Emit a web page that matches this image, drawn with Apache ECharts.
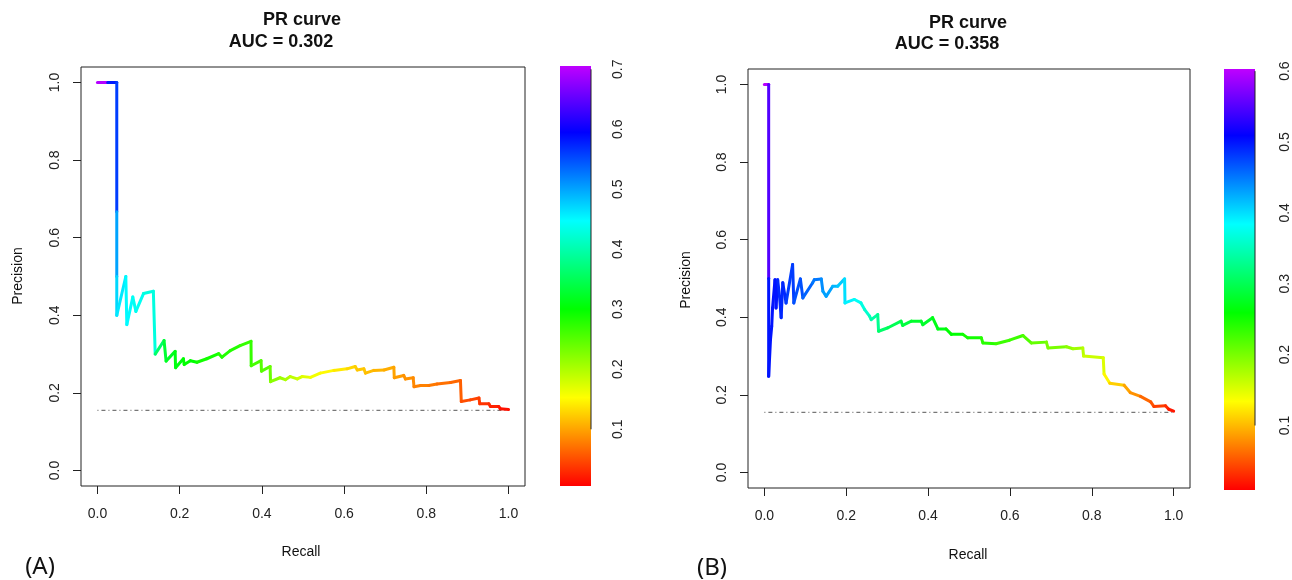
<!DOCTYPE html>
<html>
<head>
<meta charset="utf-8">
<title>PR curve</title>
<script src="https://cdn.jsdelivr.net/npm/echarts@6/dist/echarts.min.js"></script>
<style>
html, body { margin: 0; padding: 0; background: #fff; }
#main { width: 1292px; height: 580px; }
</style>
</head>
<body>
<div id="main"></div>
<script>
// Panel A: recall / precision / threshold
var recallA = [0, 0.025, 0.047, 0.047, 0.047, 0.047, 0.069, 0.0715, 0.086, 0.0935, 0.112, 0.136,
	0.1405, 0.162, 0.167, 0.189, 0.190, 0.209, 0.211, 0.226, 0.242, 0.266, 0.295, 0.303, 0.323, 0.347,
	0.3735, 0.374, 0.398, 0.399, 0.420, 0.421, 0.444, 0.457, 0.469, 0.486, 0.498, 0.518, 0.542, 0.575,
	0.607, 0.627, 0.632, 0.648, 0.652, 0.672, 0.697, 0.721, 0.722, 0.745, 0.749, 0.768, 0.770, 0.786,
	0.806, 0.826, 0.859, 0.883, 0.885, 0.907, 0.928, 0.930, 0.952, 0.956, 0.976, 0.980, 1.0];
var precisionA = [1.0, 1.0, 1.0, 0.667, 0.5, 0.40, 0.50, 0.376, 0.447, 0.41, 0.456, 0.462,
	0.30, 0.335, 0.282, 0.307, 0.265, 0.288, 0.273, 0.283, 0.279, 0.288, 0.301, 0.292, 0.309, 0.322,
	0.333, 0.270, 0.283, 0.256, 0.268, 0.229, 0.239, 0.234, 0.242, 0.236, 0.242, 0.240, 0.251, 0.258,
	0.262, 0.268, 0.259, 0.262, 0.251, 0.258, 0.259, 0.266, 0.239, 0.245, 0.236, 0.239, 0.216, 0.219,
	0.219, 0.223, 0.227, 0.232, 0.178, 0.182, 0.187, 0.172, 0.172, 0.165, 0.165, 0.159, 0.157];
var thresholdA = [0.70, 0.58, 0.56, 0.50, 0.47, 0.46, 0.45, 0.45, 0.44, 0.44, 0.43, 0.43,
	0.36, 0.33, 0.32, 0.31, 0.31, 0.30, 0.30, 0.30, 0.29, 0.29, 0.28, 0.28, 0.28, 0.27,
	0.27, 0.26, 0.25, 0.25, 0.24, 0.22, 0.21, 0.20, 0.19, 0.18, 0.17, 0.16, 0.15, 0.14,
	0.13, 0.125, 0.12, 0.12, 0.115, 0.11, 0.105, 0.10, 0.095, 0.09, 0.09, 0.085, 0.08, 0.08,
	0.075, 0.07, 0.065, 0.06, 0.05, 0.045, 0.04, 0.035, 0.03, 0.025, 0.02, 0.015, 0.006];

// Panel B
var recallB = [0, 0.0105, 0.0105, 0.0105, 0.015, 0.018, 0.020, 0.026, 0.0285, 0.0325, 0.037, 0.041,
	0.045, 0.053, 0.069, 0.072, 0.088, 0.094, 0.118, 0.122, 0.139, 0.143, 0.151, 0.167, 0.179, 0.196,
	0.197, 0.220, 0.236, 0.245, 0.257, 0.261, 0.277, 0.279, 0.302, 0.334, 0.338, 0.359, 0.383, 0.387,
	0.411, 0.424, 0.444, 0.457, 0.485, 0.497, 0.530, 0.534, 0.566, 0.599, 0.632, 0.652, 0.689, 0.693,
	0.738, 0.754, 0.778, 0.780, 0.828, 0.830, 0.844, 0.879, 0.894, 0.919, 0.944, 0.952, 0.980, 0.988, 1.0];
var precisionB = [1.0, 1.0, 0.5, 0.248, 0.343, 0.377, 0.424, 0.497, 0.424, 0.497, 0.454, 0.399,
	0.489, 0.437, 0.536, 0.437, 0.499, 0.450, 0.489, 0.497, 0.499, 0.467, 0.454, 0.480, 0.480, 0.499,
	0.437, 0.446, 0.437, 0.420, 0.403, 0.394, 0.407, 0.364, 0.373, 0.390, 0.379, 0.390, 0.390, 0.381,
	0.399, 0.370, 0.370, 0.356, 0.356, 0.347, 0.347, 0.334, 0.332, 0.341, 0.353, 0.334, 0.336, 0.321,
	0.324, 0.319, 0.321, 0.300, 0.296, 0.254, 0.230, 0.225, 0.206, 0.196, 0.182, 0.170, 0.172, 0.163, 0.158];
var thresholdB = [0.60, 0.55, 0.50, 0.50, 0.50, 0.50, 0.50, 0.50, 0.50, 0.49, 0.49, 0.49,
	0.49, 0.48, 0.48, 0.47, 0.47, 0.46, 0.45, 0.45, 0.44, 0.43, 0.43, 0.42, 0.41, 0.40,
	0.39, 0.38, 0.37, 0.36, 0.35, 0.34, 0.33, 0.31, 0.30, 0.29, 0.29, 0.28, 0.28, 0.28,
	0.27, 0.27, 0.26, 0.26, 0.25, 0.25, 0.24, 0.24, 0.23, 0.23, 0.22, 0.21, 0.20, 0.20,
	0.19, 0.18, 0.17, 0.16, 0.15, 0.13, 0.11, 0.09, 0.08, 0.06, 0.05, 0.04, 0.03, 0.02, 0.009];

// random classifier baseline (positive rate)
var baselineA = [[0, 0.155], [1, 0.155]];
var baselineB = [[0, 0.155], [1, 0.155]];

var titlesA = ['PR curve', 'AUC = 0.302'];
var titlesB = ['PR curve', 'AUC = 0.358'];

var axisTicks = [0, 0.2, 0.4, 0.6, 0.8, 1.0];
var colorTicksA = [0.1, 0.2, 0.3, 0.4, 0.5, 0.6, 0.7];
var colorTicksB = [0.1, 0.2, 0.3, 0.4, 0.5, 0.6];
var colorRangeA = [0.0055, 0.7055];
var colorRangeB = [0.009, 0.603];

var FONT = '"Liberation Sans", Arial, sans-serif';

// rainbow from red to violet
var rainbow = [];
for (var h = 0; h <= 285; h += 15) {
	rainbow.push('hsl(' + h + ',100%,50%)');
}

function toData(rec, prec, thr) {
	var out = [];
	for (var i = 0; i < rec.length; i++) {
		out.push([rec[i], prec[i], thr[i]]);
	}
	return out;
}

// each item draws the segment to the next point, coloured by its threshold
function segmentRenderer(rec, prec) {
	return function(params, api) {
		var i = params.dataIndex;
		if (i >= rec.length - 1) return;
		var p0 = api.coord([rec[i], prec[i]]);
		var p1 = api.coord([rec[i + 1], prec[i + 1]]);
		return {
			type: 'line',
			shape: { x1: p0[0], y1: p0[1], x2: p1[0], y2: p1[1] },
			style: { stroke: api.visual('color'), lineWidth: 3, lineCap: 'round' }
		};
	};
}

// colour key: one rect spanning the threshold range, filled with the rainbow
function colorBarRenderer(params, api) {
	var top = api.coord([0, api.value(1)]);
	var bottom = api.coord([1, api.value(0)]);
	var stops = rainbow.map(function(c, i) {
		return { offset: i / (rainbow.length - 1), color: c };
	});
	return {
		type: 'rect',
		shape: { x: top[0], y: top[1], width: bottom[0] - top[0], height: bottom[1] - top[1] },
		style: { fill: new echarts.graphic.LinearGradient(0, 1, 0, 0, stops) }
	};
}

function mainX(gi) {
	return {
		type: 'value', gridIndex: gi, min: -0.04, max: 1.04,
		splitLine: { show: false },
		axisLine: { show: false, onZero: false },
		axisTick: { show: true, length: 8, customValues: axisTicks, lineStyle: { color: '#222' } },
		axisLabel: { customValues: axisTicks, margin: 21, fontSize: 14, fontFamily: FONT, color: '#222',
			formatter: function(v) { return v.toFixed(1); } }
	};
}

function mainY(gi) {
	return {
		type: 'value', gridIndex: gi, min: -0.04, max: 1.04,
		splitLine: { show: false },
		axisLine: { show: false, onZero: false },
		axisTick: { show: true, length: 8, customValues: axisTicks, lineStyle: { color: '#222' } },
		axisLabel: { customValues: axisTicks, margin: 19, rotate: 90, fontSize: 14, fontFamily: FONT, color: '#222',
			formatter: function(v) { return v.toFixed(1); } }
	};
}

function barX(gi) {
	return { type: 'value', gridIndex: gi, min: 0, max: 1, show: false };
}

function barY(gi, range, ticks, margin) {
	return {
		type: 'value', gridIndex: gi, position: 'right', min: range[0], max: range[1],
		splitLine: { show: false },
		axisLine: { show: false },
		axisTick: { show: true, length: 10, customValues: ticks, lineStyle: { color: '#222' } },
		axisLabel: { customValues: ticks, margin: margin, rotate: 90, fontSize: 14, fontFamily: FONT, color: '#222',
			formatter: function(v) { return v.toFixed(1); } }
	};
}

function baselineSeries(gi, data) {
	return {
		type: 'line', xAxisIndex: gi, yAxisIndex: gi, data: data, symbol: 'none', silent: true,
		lineStyle: { color: '#777', width: 1.2, type: [1, 3, 4, 3] }, z: 1
	};
}

function colorBarSeries(gi, range) {
	return {
		type: 'custom', xAxisIndex: gi, yAxisIndex: gi, silent: true, z: 2,
		data: [[range[0], range[1]]], encode: { x: -1, y: [0, 1] },
		renderItem: colorBarRenderer
	};
}

function barAxisSeries(gi, ticks) {
	return {
		type: 'line', xAxisIndex: gi, yAxisIndex: gi, symbol: 'none', silent: true, z: 10,
		data: [[1, ticks[0]], [1, ticks[ticks.length - 1]]],
		lineStyle: { color: '#222', width: 1 }
	};
}

function label(text, x, y, size, bold, rot) {
	return {
		type: 'text', x: x, y: y, rotation: rot || 0, silent: true,
		style: { text: text, fontSize: size, fontWeight: bold ? 'bold' : 'normal', fontFamily: FONT,
			fill: '#111', textAlign: 'center', textVerticalAlign: 'middle' }
	};
}

var chart = echarts.init(document.getElementById('main'));

var option = {
	backgroundColor: '#fff',
	animation: false,
	grid: [
		{ left: 81, top: 67, width: 444, height: 419, show: true, borderColor: '#222', borderWidth: 1 },
		{ left: 748, top: 69, width: 442, height: 419, show: true, borderColor: '#222', borderWidth: 1 },
		{ left: 560, top: 66, width: 31, height: 420 },
		{ left: 1224, top: 69, width: 31, height: 421 }
	],
	xAxis: [mainX(0), mainX(1), barX(2), barX(3)],
	yAxis: [mainY(0), mainY(1), barY(2, colorRangeA, colorTicksA, 20), barY(3, colorRangeB, colorTicksB, 23)],
	visualMap: [
		{ type: 'continuous', show: false, seriesIndex: 0, dimension: 2,
			min: colorRangeA[0], max: colorRangeA[1], inRange: { color: rainbow } },
		{ type: 'continuous', show: false, seriesIndex: 2, dimension: 2,
			min: colorRangeB[0], max: colorRangeB[1], inRange: { color: rainbow } }
	],
	series: [
		{ type: 'custom', xAxisIndex: 0, yAxisIndex: 0, data: toData(recallA, precisionA, thresholdA),
			encode: { x: 0, y: 1 }, renderItem: segmentRenderer(recallA, precisionA), z: 3 },
		baselineSeries(0, baselineA),
		{ type: 'custom', xAxisIndex: 1, yAxisIndex: 1, data: toData(recallB, precisionB, thresholdB),
			encode: { x: 0, y: 1 }, renderItem: segmentRenderer(recallB, precisionB), z: 3 },
		baselineSeries(1, baselineB),
		colorBarSeries(2, colorRangeA),
		colorBarSeries(3, colorRangeB),
		barAxisSeries(2, colorTicksA),
		barAxisSeries(3, colorTicksB)
	],
	graphic: [
		label(titlesA[0], 302, 20, 18, true),
		label(titlesA[1], 281, 42, 18, true),
		label(titlesB[0], 968, 23, 18, true),
		label(titlesB[1], 947, 44, 18, true),
		label('Precision', 18, 276, 14, false, Math.PI / 2),
		label('Precision', 686, 280, 14, false, Math.PI / 2),
		label('Recall', 301, 552, 14, false),
		label('Recall', 968, 555, 14, false),
		{ type: 'text', x: 40, y: 567, silent: true,
			style: { text: '(A)', fontSize: 24, fontFamily: '"Noto Sans", sans-serif', fill: '#111',
				textAlign: 'center', textVerticalAlign: 'middle' } },
		{ type: 'text', x: 712, y: 568, silent: true,
			style: { text: '(B)', fontSize: 24, fontFamily: '"Noto Sans", sans-serif', fill: '#111',
				textAlign: 'center', textVerticalAlign: 'middle' } }
	]
};

chart.setOption(option);
</script>
</body>
</html>
